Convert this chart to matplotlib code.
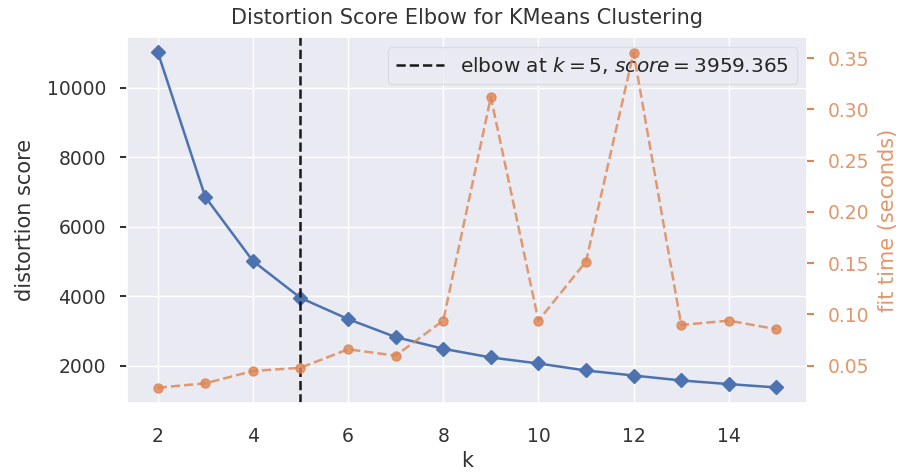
import numpy as np
import matplotlib.pyplot as plt
import seaborn as sns

sns.set_theme(style="darkgrid")

k_values = [2, 3, 4, 5, 6, 7, 8, 9, 10, 11, 12, 13, 14, 15]
distortion = [11036, 6863, 5022, 3959.365, 3350, 2831, 2495, 2245, 2072, 1870, 1726, 1583, 1479, 1382]
fit_time = [0.0285, 0.0328, 0.0448, 0.048, 0.066, 0.0598, 0.094, 0.312, 0.094, 0.1516, 0.3555, 0.0897, 0.094, 0.0856]
elbow_k = 5
elbow_score = 3959.365

blue = "#4C72B0"
orange = "#DD8452"
text_c = "#333333"

fig = plt.figure(figsize=(8.99, 4.73), dpi=100)
ax = fig.add_axes([0.141, 0.148, 0.757, 0.774])

ax.plot(k_values, distortion, marker="D", color=blue, lw=1.8, ms=7.5)
ax.axvline(elbow_k, c="k", ls="--", lw=1.8,
           label="elbow at $k={}$, $score={:0.3f}$".format(elbow_k, elbow_score))
ax.set_title("Distortion Score Elbow for KMeans Clustering", fontsize=15, color=text_c, pad=9)
ax.set_xlabel("k", fontsize=15, color=text_c, labelpad=4)
ax.set_ylabel("distortion score", fontsize=15, color=text_c, labelpad=8)
ax.set_ylim(935, 11468)
ax.set_xticks([2, 4, 6, 8, 10, 12, 14])
ax.tick_params(axis="x", labelsize=13.5, colors=text_c, length=0, pad=17)
ax.tick_params(axis="y", left=True, labelsize=13.5, colors=text_c, length=5, width=1.5, pad=10)
ax.legend(loc="upper right", fontsize=14.5, frameon=True, facecolor="#EAEAF2",
          edgecolor="#D8D8E0", handlelength=2.4, borderaxespad=0.5)

ax2 = ax.twinx()
ax2.plot(k_values, fit_time, marker="o", color=orange, ls="--", lw=1.8, ms=6.5, alpha=0.8)
ax2.grid(False)
ax2.set_ylim(0.0136, 0.3708)
ax2.set_yticks([0.05, 0.10, 0.15, 0.20, 0.25, 0.30, 0.35])
ax2.set_ylabel("fit time (seconds)", color=orange, alpha=0.85, fontsize=15, labelpad=6)
ax2.tick_params(axis="y", right=True, colors=orange, labelsize=13.5, length=5, width=1.5, pad=10)
for lbl in ax2.get_yticklabels():
    lbl.set_alpha(0.85)
for spine in ax2.spines.values():
    spine.set_visible(False)

ax.set_xlim(1.35, 15.65)
fig.savefig("out.png", dpi=100)
